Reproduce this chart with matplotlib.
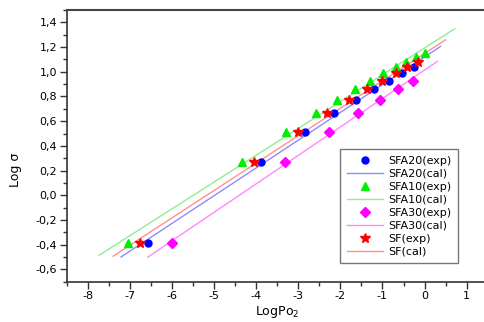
import matplotlib
matplotlib.use("Agg")
import matplotlib.pyplot as plt
from matplotlib.ticker import MultipleLocator, FuncFormatter

plt.rcParams['font.family'] = ['DejaVu Sans']

levels = [-0.383, 0.266, 0.512, 0.664, 0.775, 0.859, 0.929, 0.989, 1.035, 1.078, 1.12, 1.155]

sfa20_x = [-6.58, -3.89, -2.83, -2.14, -1.62, -1.20, -0.85, -0.53, -0.24]
sfa20_y = levels[:9]
sfa10_x = [-7.04, -4.34, -3.29, -2.59, -2.07, -1.65, -1.30, -0.98, -0.69, -0.44, -0.21, 0.0]
sfa10_y = levels[:12]
sfa30_x = [-6.01, -3.32, -2.26, -1.57, -1.05, -0.63, -0.27]
sfa30_y = levels[:7]
sf_x = [-6.75, -4.05, -3.00, -2.31, -1.79, -1.36, -1.00, -0.69, -0.42, -0.16]
sf_y = levels[:10]

sfa20_cal_x = [-7.21, 0.38]
sfa20_cal_y = [-0.50, 1.205]
sfa10_cal_x = [-7.73, 0.72]
sfa10_cal_y = [-0.486, 1.349]
sfa30_cal_x = [-6.57, 0.30]
sfa30_cal_y = [-0.50, 1.083]
sf_cal_x = [-7.40, 0.50]
sf_cal_y = [-0.494, 1.259]

fig = plt.figure(figsize=(4.84, 3.22), dpi=100)
ax = fig.add_axes([66.7/484, 1-281.7/322, 421/484, (281.7-10)/322])

ms = 5
ax.plot(sfa20_x, sfa20_y, 'o', color='#0000ff', ms=ms, label='SFA20(exp)', zorder=3)
ax.plot(sfa20_cal_x, sfa20_cal_y, '-', color='#8c8cff', lw=1, label='SFA20(cal)')
ax.plot(sfa10_x, sfa10_y, '^', color='#00ee00', ms=ms+1, label='SFA10(exp)', zorder=3)
ax.plot(sfa10_cal_x, sfa10_cal_y, '-', color='#90ee90', lw=1, label='SFA10(cal)')
ax.plot(sfa30_x, sfa30_y, 'D', color='#ff00ff', ms=ms, label='SFA30(exp)', zorder=3)
ax.plot(sfa30_cal_x, sfa30_cal_y, '-', color='#ff88ff', lw=1, label='SFA30(cal)')
ax.plot(sf_x, sf_y, '*', color='#ff0000', ms=ms+2, label='SF(exp)', zorder=3)
ax.plot(sf_cal_x, sf_cal_y, '-', color='#ff9090', lw=1, label='SF(cal)')

ax.set_xlim(-8.5, 1.5)
ax.set_ylim(-0.7, 1.5)
ax.xaxis.set_major_locator(MultipleLocator(1))
ax.xaxis.set_minor_locator(MultipleLocator(0.5))
ax.yaxis.set_major_locator(MultipleLocator(0.2))
ax.yaxis.set_minor_locator(MultipleLocator(0.1))
ax.yaxis.set_major_formatter(FuncFormatter(lambda v, p: f"{v:.1f}".replace('.', ',').replace('-0,0', '0,0')))
ax.xaxis.set_major_formatter(FuncFormatter(lambda v, p: f"{int(round(v))}"))
ax.tick_params(which='major', direction='out', length=5, width=1, labelsize=8, color='#333333', pad=2)
ax.tick_params(which='minor', direction='out', length=3, width=1, color='#333333')
ax.tick_params(axis='x', top=False)
ax.tick_params(axis='y', right=False)
for s in ['left', 'bottom']:
    ax.spines[s].set_linewidth(1.2)
    ax.spines[s].set_color('#333333')
ax.spines['top'].set_linewidth(1.5)
ax.spines['top'].set_color('#444444')
ax.spines['right'].set_visible(False)

fig.text(15/484, 1-170/322, 'Log σ', rotation=90, ha='center', va='center', fontsize=9)
fig.text(277/484, 1-312/322, 'LogPo$_2$', ha='center', va='center', fontsize=9)

leg = ax.legend(loc='upper left', bbox_to_anchor=(340/484, 1-149/322), bbox_transform=fig.transFigure,
                borderaxespad=0, fontsize=8, frameon=True, fancybox=False, handlelength=3.3,
                handletextpad=0.4, labelspacing=0.27, borderpad=0.6)
leg.get_frame().set_edgecolor('#555555')
leg.get_frame().set_linewidth(1)

fig.savefig('out.png', dpi=100)
